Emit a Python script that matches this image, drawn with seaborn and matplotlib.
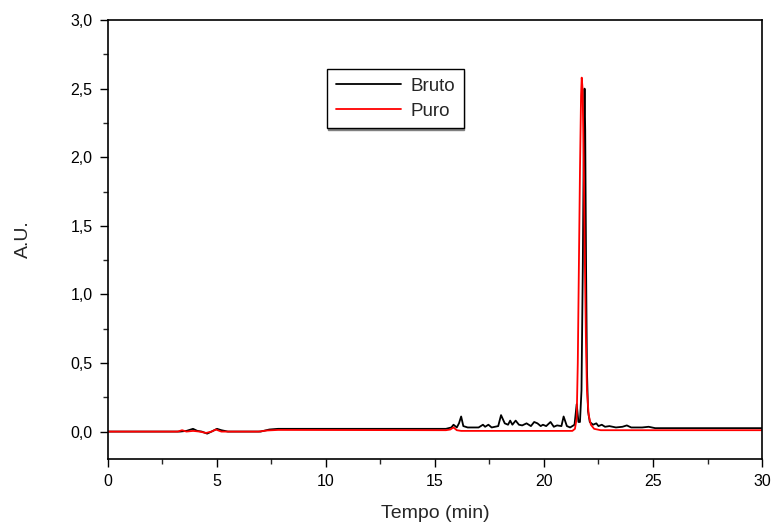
import numpy as np
import pandas as pd
import seaborn as sns
import matplotlib.pyplot as plt
from matplotlib.ticker import MultipleLocator

# Bruto chromatogram (time in min, absorbance A.U.)
bruto_t = [0, 3.3, 3.6, 3.9, 4.1, 4.3, 4.55, 4.75, 5.0, 5.2,
           5.5, 7.0, 7.4, 7.8, 10, 12, 15, 15.5, 15.75, 15.85,
           16.0, 16.1, 16.2, 16.3, 16.5, 17.0, 17.2, 17.3, 17.45, 17.6,
           17.9, 18.03, 18.2, 18.35, 18.45, 18.55, 18.7, 18.85, 19.0, 19.2,
           19.4, 19.55, 19.7, 19.85, 19.95, 20.1, 20.3, 20.45, 20.6, 20.8,
           20.9, 21.05, 21.2, 21.4, 21.5, 21.58, 21.65, 21.72, 21.78, 21.83,
           21.86, 21.89, 21.93, 21.97, 22.02, 22.1, 22.25, 22.4, 22.5, 22.65,
           22.8, 23.0, 23.3, 23.6, 23.8, 24.0, 24.5, 24.8, 25.1, 26,
           30]
bruto_au = [0, 0, 0.005, 0.02, 0.005, 0.0, -0.015, 0.0, 0.02, 0.01,
            0.0, 0.0, 0.015, 0.02, 0.02, 0.02, 0.02, 0.02, 0.03, 0.05,
            0.03, 0.06, 0.11, 0.04, 0.03, 0.03, 0.05, 0.035, 0.05, 0.03,
            0.04, 0.12, 0.06, 0.05, 0.08, 0.05, 0.08, 0.05, 0.045, 0.06,
            0.04, 0.07, 0.06, 0.04, 0.05, 0.04, 0.07, 0.035, 0.045, 0.04,
            0.11, 0.04, 0.03, 0.05, 0.2, 0.07, 0.07, 0.3, 1.2, 2.2,
            2.5, 2.2, 1.2, 0.45, 0.15, 0.07, 0.05, 0.06, 0.04, 0.05,
            0.035, 0.04, 0.03, 0.035, 0.045, 0.03, 0.03, 0.035, 0.025, 0.025,
            0.025]

# Puro chromatogram
puro_t = [0, 3.2, 3.4, 3.6, 3.9, 4.2, 4.5, 4.75, 4.95, 5.2,
          6.9, 7.3, 7.8, 15.5, 15.7, 15.85, 16.0, 16.2, 21.3, 21.42,
          21.5, 21.55, 21.6, 21.65, 21.7, 21.73, 21.77, 21.82, 21.87, 21.92,
          21.97, 22.05, 22.15, 22.3, 22.6, 30]
puro_au = [0, 0, 0.01, 0.0, 0.005, 0.0, -0.01, 0.0, 0.015, 0.0,
           0.0, 0.008, 0.012, 0.01, 0.015, 0.03, 0.01, 0.005, 0.005, 0.02,
           0.1, 0.5, 1.2, 1.9, 2.45, 2.58, 2.5, 2.0, 1.3, 0.7,
           0.3, 0.12, 0.05, 0.02, 0.01, 0.01]

y_ticks = [0.0, 0.5, 1.0, 1.5, 2.0, 2.5, 3.0]
y_labels = ["0,0", "0,5", "1,0", "1,5", "2,0", "2,5", "3,0"]
x_ticks = [0, 5, 10, 15, 20, 25, 30]

df = pd.concat([
    pd.DataFrame({"t": bruto_t, "au": bruto_au, "amostra": "Bruto"}),
    pd.DataFrame({"t": puro_t, "au": puro_au, "amostra": "Puro"}),
])

sns.set_style("ticks")
plt.rcParams["font.family"] = ["Liberation Sans", "DejaVu Sans"]

fig = plt.figure(figsize=(7.74, 5.27), dpi=100)
ax = fig.add_axes([0.1395, 0.129, 0.845, 0.833])

sns.lineplot(data=df, x="t", y="au", hue="amostra", palette=["black", "red"],
             estimator=None, sort=True, linewidth=1.3, ax=ax)

ax.set_xlim(0, 30)
ax.set_ylim(-0.2, 3.0)
ax.set_xticks(x_ticks)
ax.set_xticklabels([str(v) for v in x_ticks])
ax.set_yticks(y_ticks)
ax.set_yticklabels(y_labels)
ax.xaxis.set_minor_locator(MultipleLocator(2.5))
ax.yaxis.set_minor_locator(MultipleLocator(0.25))
ax.tick_params(which="major", length=6, width=1, direction="out", labelsize=11.5,
               colors="black", pad=5)
ax.tick_params(which="minor", length=3.5, width=1, direction="out")
for s in ax.spines.values():
    s.set_linewidth(1.2)
    s.set_color("black")

ax.set_xlabel("Tempo (min)", fontsize=14, labelpad=11)
ax.set_ylabel("A.U.", fontsize=14, labelpad=28)

leg = ax.legend(loc="upper left", bbox_to_anchor=(0.335, 0.888), fontsize=13.5,
                handlelength=3.5, frameon=True, fancybox=False,
                shadow={"ox": 0.6, "oy": -1.2, "color": "0.5", "alpha": 1},
                borderpad=0.45, labelspacing=0.42, handletextpad=0.5, borderaxespad=0)
leg.get_frame().set_edgecolor("black")
leg.get_frame().set_linewidth(1.0)
leg.get_frame().set_alpha(1)

fig.savefig("out.png", dpi=100)
